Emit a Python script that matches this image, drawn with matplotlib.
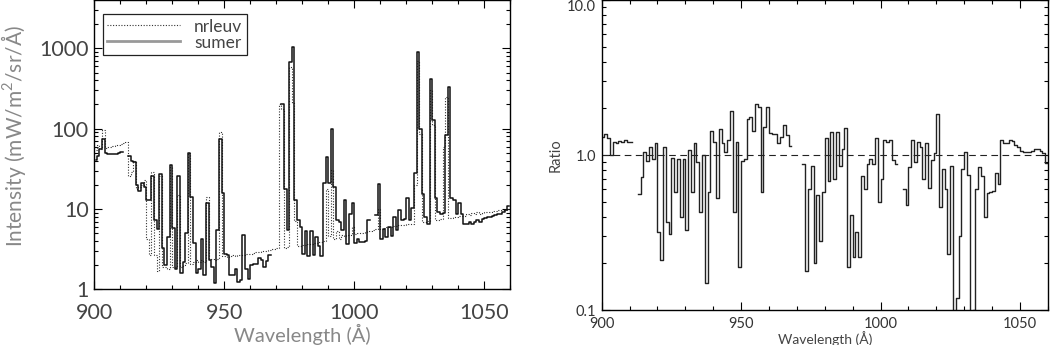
import numpy as np
import matplotlib
matplotlib.use("Agg")
import matplotlib.pyplot as plt
from matplotlib.lines import Line2D
from matplotlib.ticker import MultipleLocator, FixedLocator, FixedFormatter, LogLocator, NullFormatter

nan = np.nan

# 1 A bins starting at 900 A (160 bins)
wave_start = 900
n_bins = 160

sumer = [
    41, 46, 56, 75, 50, 49, 48, 49, 48, 50,          # 900
    51, nan, nan, 46, 40, 38, 20, 17, 21, 19,        # 910
    13, 13, 26, 7.4, 5.6, 27, 3.3, 2.0, 4.5, 35,     # 920
    5.8, 1.8, 26, 1.6, 2.2, 5.0, 50, 14, 3.8, 1.6,   # 930
    1.8, 4.3, 1.5, 12, 2.3, 1.9, 1.2, 5.5, 75, 16,   # 940
    2.8, 2.7, 1.5, 1.5, 1.8, 1.25, 1.3, 4.7, 1.8, 1.35,  # 950
    2.0, 2.1, 2.1, 2.45, 2.3, 1.9, 2.25, 2.7, nan, nan,  # 960
    nan, nan, 200, 18, 5.5, 680, 1050, 13, 7.3, 6.0,     # 970
    2.8, 5.3, 2.6, 5.3, 2.7, 4.5, 3.5, 2.6, 21, 44,      # 980
    21, 98, 19, 7.3, 7.0, 5.5, 13, 3.7, 8.8, 12,         # 990
    3.8, 4.2, 3.9, 3.9, 4.0, 7.3, nan, nan, 8.5, 20.5,   # 1000
    4.3, 5.7, 4.5, 6.0, 4.6, 8.0, 5.5, 9.7, 7.3, 7.5,    # 1010
    13.6, 7.3, 10.4, 28, 890, 100, 15.6, 8.0, 6.6, 410,  # 1020
    128, 13.6, 9.3, 8.6, 9.0, 83, 330, 13.6, 13, 8.8,    # 1030
    12, 8.8, 6.5, 6.6, 6.9, 6.5, 7.0, 7.3, 7.0, 7.5,     # 1040
    7.8, 7.9, 8.0, 8.3, 8.5, 8.7, 8.8, 9.2, 9.8, 11,     # 1050
]

nrleuv = [
    54, 63, 56, 95, 58, 59, 60, 61, 62, 63,            # 900
    64, 66, 68, 26, 29, 40, 18, 19, 20, 23,            # 910
    4.2, 2.7, 29, 2.7, 1.7, 26, 1.9, 1.9, 1.8, 33,     # 920
    1.9, 1.9, 15, 1.9, 2.0, 2.15, 50, 2.1, 2.2, 2.3,   # 930
    2.2, 2.3, 2.2, 14, 2.4, 2.4, 2.3, 2.4, 92, 2.6,    # 940
    2.6, 2.55, 2.6, 2.65, 2.6, 2.65, 2.7, 2.7, 2.75, 2.8,  # 950
    2.8, 2.85, 2.9, 2.95, 3.0, 3.0, 3.05, 3.1, 3.15, 3.2,  # 960
    3.25, 200, 174, 3.3, 3.35, 580, 210, 7.2, 3.5, 3.5,    # 970
    3.55, 3.6, 3.65, 3.7, 3.75, 3.8, 3.85, 3.9, 4.0, 18,   # 980
    4.6, 31, 4.2, 5.3, 4.3, 4.8, 4.6, 4.7, 4.8, 6.0,       # 990
    4.9, 5.0, 5.1, 5.1, 5.2, 5.3, 5.4, 5.5, 5.6, 10,       # 1000
    5.7, 5.8, 5.9, 6.0, 6.0, 6.1, 6.2, 6.3, 6.3, 6.4,      # 1010
    6.5, 6.6, 6.6, 20, 700, 85, 7.0, 7.0, 7.1, 300,        # 1020
    110, 7.3, 7.4, 7.5, 60, 250, 7.7, 7.8, 7.9, 8.0,       # 1030
    8.1, 8.2, 8.3, 8.6, 8.5, 8.9, 8.7, 9.2, 8.8, 9.0,      # 1040
    9.1, 9.2, 9.3, 9.4, 9.5, 9.6, 9.7, 9.7, 9.8, 10.0,     # 1050
]

ratio = [
    1.31, 1.36, 1.28, 1.0, 1.22, 1.2, 1.24, 1.21, 1.26, 1.22,   # 900
    1.22, nan, nan, 0.56, 0.72, 1.05, 0.92, 1.13, 0.95, 1.2,    # 910
    0.32, 0.21, 1.12, 0.37, 0.31, 0.96, 0.58, 0.95, 0.4, 0.95,  # 920
    0.33, 1.08, 0.58, 1.2, 0.9, 0.43, 1.0, 0.15, 0.58, 1.42,    # 930
    1.22, 0.53, 1.47, 1.2, 1.05, 1.25, 1.92, 0.43, 1.22, 0.19,  # 940
    0.92, 0.95, 1.72, 1.75, 1.43, 2.12, 2.03, 0.58, 1.52, 2.03, # 950
    1.38, 1.36, 1.36, 1.2, 1.3, 1.56, 1.35, 1.15, nan, nan,     # 960
    nan, nan, 0.87, 0.18, 0.6, 0.85, 0.2, 0.55, 0.28, 0.58,     # 970
    1.28, 0.68, 1.4, 0.7, 1.4, 0.85, 1.1, 1.5, 0.19, 0.41,      # 980
    0.22, 0.32, 0.22, 0.73, 0.6, 0.87, 0.95, 0.87, 1.28, 0.5,   # 990
    0.7, 1.25, 1.22, 1.25, 0.93, 0.87, nan, nan, 0.6, 0.48,     # 1000
    0.84, 1.25, 0.9, 1.22, 1.13, 0.7, 1.2, 0.61, 0.93, 1.03,    # 1010
    1.83, 0.46, 0.81, 0.6, 0.23, 0.85, 0.05, 0.12, 0.3, 0.81,   # 1020
    1.04, 0.74, 0.04, 0.1, 0.6, 0.84, 0.73, 0.4, 0.57, 0.58,    # 1030
    0.59, 0.77, 0.65, 1.25, 1.19, 1.19, 1.26, 1.24, 1.16, 1.13, # 1040
    1.07, 1.05, 1.04, 1.04, 1.06, 1.1, 1.09, 1.07, 1.03, 0.89,  # 1050
]

wave = wave_start + np.arange(n_bins) + 0.5

plt.rcParams['font.family'] = ['Lato', 'DejaVu Sans']
plt.rcParams['mathtext.fontset'] = 'custom'
plt.rcParams['mathtext.rm'] = 'Lato'

fig = plt.figure(figsize=(10.5, 3.45), dpi=100)

def idl_axes(ax, fs, color):
    ax.tick_params(which='both', direction='in', top=True, right=True,
                   labelsize=fs, labelcolor=color, width=0.8)
    ax.tick_params(which='major', length=6)
    ax.tick_params(which='minor', length=3)
    for s in ax.spines.values():
        s.set_linewidth(1.0)

# left panel: intensities
ax1 = fig.add_axes([0.0898, 0.161, 0.396, 0.838])
ax1.plot(wave, nrleuv, drawstyle='steps-mid', color='#333333', lw=0.8,
         linestyle=(0, (1, 1.5)))
ax1.plot(wave, sumer, drawstyle='steps-mid', color='#111111', lw=1.1)
ax1.set_yscale('log')
ax1.set_xlim(900, 1060)
ax1.set_ylim(1, 3950)
ax1.xaxis.set_major_locator(FixedLocator([900, 950, 1000, 1050]))
ax1.xaxis.set_minor_locator(MultipleLocator(10))
ax1.yaxis.set_major_locator(FixedLocator([1, 10, 100, 1000]))
ax1.yaxis.set_major_formatter(FixedFormatter(['1', '10', '100', '1000']))
ax1.yaxis.set_minor_locator(LogLocator(base=10, subs=np.arange(2, 10)))
ax1.yaxis.set_minor_formatter(NullFormatter())
idl_axes(ax1, 15.5, '#444444')
ax1.tick_params(axis='x', pad=10)
ax1.tick_params(axis='y', pad=4)
ax1.set_xlabel('Wavelength (Å)', fontsize=14.5, color='#888888')
ax1.xaxis.set_label_coords(0.5, -0.118)
ax1.set_ylabel('Intensity (mW/m$^2$/sr/Å)', fontsize=15, color='#888888')
ax1.yaxis.set_label_coords(-0.160, 0.53)

handles = [Line2D([], [], color='#333333', lw=0.8, linestyle=(0, (1, 1.5))),
           Line2D([], [], color='#999999', lw=2.0)]
leg = ax1.legend(handles, ['nrleuv', 'sumer'], loc='upper left',
                 bbox_to_anchor=(0.021, 0.952), borderaxespad=0,
                 fontsize=12.5, handlelength=4.2, handletextpad=0.8,
                 labelspacing=0.0, borderpad=0.25, fancybox=False,
                 framealpha=1, edgecolor='#222222')
leg.get_frame().set_linewidth(0.9)
for t in leg.get_texts():
    t.set_color('#444444')

# right panel: ratio
ax2 = fig.add_axes([0.573, 0.101, 0.425, 0.899])
ax2.plot(wave, ratio, drawstyle='steps-mid', color='#222222', lw=1.0)
ax2.axhline(1.0, color='#222222', lw=0.8, linestyle=(0, (6, 4)))
ax2.set_yscale('log')
ax2.set_xlim(900, 1060)
ax2.set_ylim(0.1, 10)
ax2.xaxis.set_major_locator(FixedLocator([900, 950, 1000, 1050]))
ax2.xaxis.set_minor_locator(MultipleLocator(10))
ax2.yaxis.set_major_locator(FixedLocator([0.1, 1, 10]))
ax2.yaxis.set_major_formatter(FixedFormatter(['0.1', '1.0', '10.0']))
ax2.yaxis.set_minor_locator(LogLocator(base=10, subs=np.arange(2, 10)))
ax2.yaxis.set_minor_formatter(NullFormatter())
idl_axes(ax2, 10.5, '#333333')
ax2.tick_params(axis='x', pad=5)
ax2.tick_params(axis='y', pad=4)
ax2.set_xlabel('Wavelength (Å)', fontsize=10, color='#444444')
ax2.xaxis.set_label_coords(0.5, -0.066)
ax2.set_ylabel('Ratio', fontsize=10.5, color='#444444')
ax2.yaxis.set_label_coords(-0.088, 0.5)
# keep the top label inside the figure
ax2.get_yticklabels()[-1].set_va('top')

fig.savefig('out.png', dpi=100)
